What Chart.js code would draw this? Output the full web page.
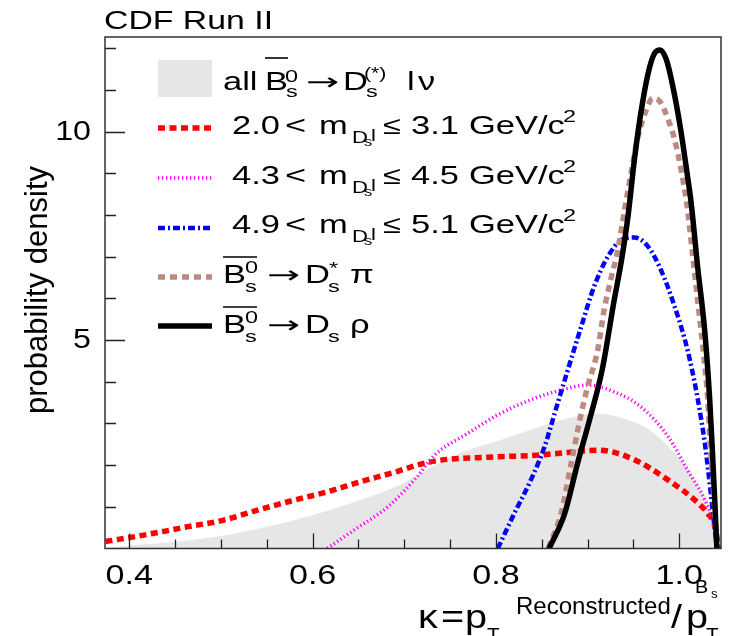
<!DOCTYPE html>
<html>
<head>
<meta charset="utf-8">
<script src="https://cdn.jsdelivr.net/npm/chart.js@4.4.1/dist/chart.umd.min.js"></script>
<style>
  html, body { margin: 0; padding: 0; background: #ffffff; }
  canvas { display: block; }
</style>
</head>
<body>
<canvas id="kappaChart" width="731" height="636"></canvas>
<script>
// kappa = pT(reco) / pT(Bs)

// all Bs -> Ds(*) l nu (grey area)
const allX = [0.374, 0.40, 0.45, 0.50, 0.55, 0.60, 0.65, 0.70, 0.733, 0.77, 0.805, 0.842, 0.878, 0.91, 0.944, 0.973, 0.998, 1.017, 1.031, 1.040, 1.043];
const allY = [0.01, 0.07, 0.16, 0.30, 0.52, 0.80, 1.15, 1.58, 2.00, 2.36, 2.60, 2.88, 3.12, 3.24, 3.08, 2.76, 2.20, 1.64, 1.08, 0.28, 0.0];

// 2.0 < m <= 3.1
const redX = [0.374, 0.383, 0.423, 0.463, 0.501, 0.540, 0.578, 0.616, 0.652, 0.691, 0.714, 0.740, 0.791, 0.846, 0.886, 0.911, 0.948, 0.988, 1.017, 1.031, 1.039, 1.043];
const redY = [0.17, 0.20, 0.35, 0.52, 0.67, 0.92, 1.15, 1.36, 1.60, 1.84, 2.00, 2.12, 2.19, 2.24, 2.32, 2.36, 2.16, 1.64, 1.16, 0.84, 0.52, 0.0];

// 4.3 < m <= 4.5
const magX = [0.616, 0.645, 0.682, 0.714, 0.733, 0.769, 0.805, 0.842, 0.878, 0.900, 0.929, 0.958, 0.988, 1.009, 1.028, 1.039, 1.043];
const magY = [0.0, 0.44, 1.00, 1.72, 2.24, 2.76, 3.24, 3.60, 3.84, 3.92, 3.76, 3.40, 2.68, 1.88, 1.16, 0.52, 0.0];

// 4.9 < m <= 5.1
const blueX = [0.802, 0.820, 0.838, 0.853, 0.864, 0.875, 0.893, 0.907, 0.922, 0.937, 0.951, 0.966, 0.980, 0.995, 1.009, 1.020, 1.028, 1.034, 1.038, 1.041];
const blueY = [0.0, 0.84, 1.64, 2.44, 3.24, 4.04, 5.32, 6.28, 7.00, 7.40, 7.46, 7.24, 6.68, 5.80, 4.76, 3.60, 2.50, 1.40, 0.60, 0.0];

// Bs -> Ds* pi
const brownX = [0.857, 0.871, 0.882, 0.893, 0.900, 0.911, 0.918, 0.926, 0.933, 0.940, 0.948, 0.955, 0.964, 0.971, 0.979, 0.988, 0.995, 1.002, 1.008, 1.014, 1.020, 1.026, 1.031, 1.034, 1.039, 1.041];
const brownY = [0.0, 0.84, 2.04, 3.24, 3.88, 4.76, 5.72, 6.52, 7.16, 8.08, 9.08, 9.88, 10.52, 10.80, 10.72, 10.28, 9.80, 9.08, 8.30, 7.16, 5.96, 4.76, 3.60, 2.40, 0.84, 0.0];

// Bs -> Ds rho
const blackX = [0.858, 0.875, 0.889, 0.902, 0.916, 0.929, 0.937, 0.944, 0.951, 0.958, 0.966, 0.973, 0.979, 0.986, 0.993, 1.001, 1.008, 1.013, 1.020, 1.028, 1.033, 1.036, 1.039, 1.041];
const blackY = [0.0, 0.84, 2.04, 3.08, 4.30, 5.96, 6.92, 7.96, 9.32, 10.44, 11.40, 11.88, 11.96, 11.72, 11.08, 10.12, 9.08, 8.28, 6.76, 5.16, 3.64, 2.40, 1.00, 0.0];

const xTickLabels = ['0.4', '0.6', '0.8', '1.0'];
const yTickLabels = ['5', '10'];

const FONT = '"Liberation Sans", Arial, sans-serif';
const ARROW_FONT = '"DejaVu Sans", sans-serif';

function toPts(xs, ys) {
  return xs.map((x, i) => ({ x: x, y: ys[i] }));
}

// text with horizontal stretch (the original picture is wider than tall)
function txt(ctx, s, x, y, size, sx, align, family) {
  ctx.save();
  ctx.font = size + 'px ' + (family || FONT);
  ctx.textAlign = align || 'left';
  ctx.textBaseline = 'alphabetic';
  ctx.translate(x, y);
  ctx.scale(sx, 1);
  ctx.fillText(s, 0, 0);
  const w = ctx.measureText(s).width * sx;
  ctx.restore();
  return w;
}

function hline(ctx, x1, x2, y, w) {
  ctx.save();
  ctx.strokeStyle = '#000';
  ctx.lineWidth = w;
  ctx.beginPath();
  ctx.moveTo(x1, y);
  ctx.lineTo(x2, y);
  ctx.stroke();
  ctx.restore();
}

const lineStyles = [
  { color: '#ff0000', width: 5.5, dash: [7, 4.5] },
  { color: '#ff00ff', width: 3.5, dash: [1.3, 2.7] },
  { color: '#0000ff', width: 4.5, dash: [7, 3, 2, 3] },
  { color: '#bd8a80', width: 5.5, dash: [7, 5] },
  { color: '#000000', width: 5.5, dash: [] }
];

// frame, inside ticks, labels and legend, ROOT style
const rootDecor = {
  id: 'rootDecor',
  afterDraw(chart) {
    const ctx = chart.ctx;
    const a = chart.chartArea;
    const xs = chart.scales.x;
    const ys = chart.scales.y;

    ctx.save();
    ctx.fillStyle = '#000';

    // ticks
    ctx.strokeStyle = '#222';
    ctx.lineWidth = 1.3;
    ctx.beginPath();
    for (let i = 0; i * 0.05 + 0.4 < xs.max; i++) {
      const v = 0.4 + i * 0.05;
      const px = Math.round(xs.getPixelForValue(v)) + 0.5;
      const len = (i % 4 === 0) ? 15 : 9;
      ctx.moveTo(px, a.bottom);
      ctx.lineTo(px, a.bottom - len);
    }
    for (let v = 1; v < ys.max; v++) {
      const py = Math.round(ys.getPixelForValue(v)) + 0.5;
      const len = (v % 5 === 0) ? 20 : 11;
      ctx.moveTo(a.left, py);
      ctx.lineTo(a.left + len, py);
    }
    ctx.stroke();

    // frame
    ctx.strokeStyle = '#333';
    ctx.lineWidth = 1.5;
    ctx.strokeRect(a.left, a.top, a.right - a.left, a.bottom - a.top);

    // tick labels
    xTickLabels.forEach(l => {
      txt(ctx, l, xs.getPixelForValue(parseFloat(l)), 584, 28, 1.22, 'center');
    });
    yTickLabels.forEach(l => {
      txt(ctx, l, 91, ys.getPixelForValue(parseFloat(l)) + 8, 28, 1.15, 'right');
    });

    // title
    txt(ctx, 'CDF Run II', 104, 29, 26, 1.3);

    // y axis title
    ctx.save();
    ctx.translate(47, 290);
    ctx.rotate(-Math.PI / 2);
    txt(ctx, 'probability density', 0, 0, 31, 1.0, 'center');
    ctx.restore();

    // x axis title: kappa = pT^Reconstructed / pT^Bs
    txt(ctx, '\u03ba', 418, 628, 33, 1.2);
    txt(ctx, '=', 441, 628, 33, 1.2);
    txt(ctx, 'p', 465, 628, 33, 1.2);
    txt(ctx, 'T', 487, 641, 18, 1.15);
    txt(ctx, 'Reconstructed', 516, 614, 24, 1.0);
    txt(ctx, '/', 671, 628, 33, 1.2);
    txt(ctx, 'p', 686, 628, 33, 1.2);
    txt(ctx, 'T', 706, 641, 18, 1.15);
    txt(ctx, 'B', 695, 593, 18, 1.1);
    txt(ctx, 's', 711, 598, 12, 1.1);

    // legend
    const L = 25, S = 17, SX = 1.38;
    ctx.fillStyle = '#e6e6e6';
    ctx.fillRect(158, 60, 54, 37);
    ctx.fillStyle = '#000';

    const sampleY = [128, 178, 228, 277, 326];
    lineStyles.forEach((st, i) => {
      ctx.save();
      ctx.strokeStyle = st.color;
      ctx.lineWidth = st.width;
      ctx.setLineDash(st.dash);
      ctx.beginPath();
      ctx.moveTo(158, sampleY[i]);
      ctx.lineTo(212, sampleY[i]);
      ctx.stroke();
      ctx.restore();
    });

    // row 1
    let b = 90;
    txt(ctx, 'all', 223, b, L, SX);
    txt(ctx, 'B', 265, b, L, SX);
    hline(ctx, 265, 288, 58, 1.6);
    txt(ctx, '0', 285, b - 8, S, SX);
    txt(ctx, 's', 286, b + 7, S, SX);
    txt(ctx, '\u2192', 306, b, 24, 1.65, 'left', ARROW_FONT);
    txt(ctx, 'D', 343, b, L, SX);
    txt(ctx, '(*)', 364, b - 11, S, 1.25);
    txt(ctx, 's', 366, b + 7, S, SX);
    txt(ctx, 'l', 407, b, L, SX);
    txt(ctx, '\u03bd', 418, b, L, SX);

    // rows 2-4: mass windows
    const massRows = [['2.0', '3.1', 134], ['4.3', '4.5', 184], ['4.9', '5.1', 233]];
    massRows.forEach(r => {
      const y = r[2];
      txt(ctx, r[0], 232, y, L, SX);
      txt(ctx, '<', 285, y, L, 1.45);
      txt(ctx, 'm', 319, y, L, SX);
      txt(ctx, 'D', 352, y + 9, 16, SX);
      txt(ctx, 's', 364, y + 12, 12, SX);
      txt(ctx, 'l', 371, y + 7, 16, SX);
      txt(ctx, '\u2264', 383, y, L, 1.3);
      txt(ctx, r[1], 411, y, L, SX);
      txt(ctx, 'GeV/c', 469, y, L, SX);
      txt(ctx, '2', 563, y - 12, S, SX);
    });

    // rows 5-6: exclusive modes
    const modeRows = [['*', '\u03c0', 283], ['', '\u03c1', 333]];
    modeRows.forEach(r => {
      const y = r[2];
      txt(ctx, 'B', 223, y, L, SX);
      hline(ctx, 223, 257, y - 26, 1.6);
      txt(ctx, '0', 245, y - 10, S, SX);
      txt(ctx, 's', 245, y + 9, S, SX);
      txt(ctx, '\u2192', 267, y, 24, 1.65, 'left', ARROW_FONT);
      txt(ctx, 'D', 305, y, L, SX);
      if (r[0]) txt(ctx, r[0], 329, y - 9, S, SX);
      txt(ctx, 's', 328, y + 9, S, SX);
      txt(ctx, r[1], 350, y, L, SX);
    });

    ctx.restore();
  }
};

const seriesX = [redX, magX, blueX, brownX, blackX];
const seriesY = [redY, magY, blueY, brownY, blackY];
const seriesNames = ['2.0 < m <= 3.1', '4.3 < m <= 4.5', '4.9 < m <= 5.1', 'Bs -> Ds* pi', 'Bs -> Ds rho'];

const datasets = seriesX.map((xs, i) => ({
  label: seriesNames[i],
  data: toPts(xs, seriesY[i]),
  borderColor: lineStyles[i].color,
  borderWidth: lineStyles[i].width,
  borderDash: lineStyles[i].dash,
  borderJoinStyle: 'round',
  fill: false,
  pointRadius: 0,
  cubicInterpolationMode: 'monotone',
  order: 4 - i
}));

datasets.push({
  label: 'all',
  data: toPts(allX, allY),
  backgroundColor: '#e6e6e6',
  borderWidth: 0,
  borderColor: 'rgba(0,0,0,0)',
  fill: 'origin',
  pointRadius: 0,
  cubicInterpolationMode: 'monotone',
  order: 9
});

const ctx = document.getElementById('kappaChart').getContext('2d');
const kappaChart = new Chart(ctx, {
  type: 'line',
  data: { datasets: datasets },
  options: {
    responsive: false,
    animation: false,
    layout: { padding: { left: 105, top: 37, right: 10, bottom: 87.5 } },
    scales: {
      x: { type: 'linear', min: 0.3735, max: 1.0455, display: false },
      y: { type: 'linear', min: 0, max: 12.27, display: false }
    },
    plugins: {
      legend: { display: false },
      tooltip: { enabled: false }
    }
  },
  plugins: [rootDecor]
});
</script>
</body>
</html>
